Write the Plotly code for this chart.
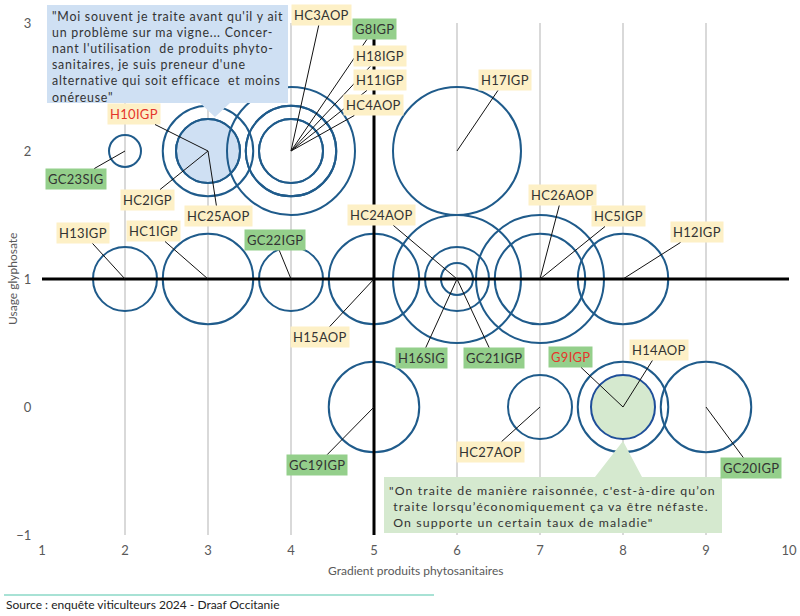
import plotly.graph_objects as go

# ---------------- data ----------------
labels = ["GC23SIG", "HC2IGP", "HC25AOP", "H10IGP",
          "HC3AOP", "G8IGP", "H18IGP", "H11IGP", "HC4AOP",
          "H17IGP",
          "H13IGP", "HC1IGP", "GC22IGP", "H15AOP",
          "HC24AOP", "GC21IGP", "H16SIG",
          "HC26AOP", "HC5IGP", "H12IGP",
          "GC19IGP", "HC27AOP", "H14AOP", "G9IGP", "GC20IGP"]
gradient = [2, 3, 3, 3,
            4, 4, 4, 4, 4,
            6,
            2, 3, 4, 5,
            6, 6, 6,
            7, 7, 8,
            5, 7, 8, 8, 9]
glypho = [2, 2, 2, 2,
          2, 2, 2, 2, 2,
          2,
          1, 1, 1, 1,
          1, 1, 1,
          1, 1, 1,
          0, 0, 0, 0, 0]
bubble = [1, 8, 4, 4,
          16, 8, 4, 4, 8,
          16,
          4, 8, 4, 8,
          16, 4, 1,
          16, 8, 8,
          8, 4, 8, 4, 8]
groupe = ["SIG", "IGP", "AOP", "IGP",
          "AOP", "G", "IGP", "IGP", "AOP",
          "IGP",
          "IGP", "IGP", "G", "AOP",
          "AOP", "G", "SIG",
          "AOP", "IGP", "IGP",
          "G", "AOP", "AOP", "G", "G"]
highlight = {"H10IGP": "#cfe0f3", "G9IGP": "#d5e9cf"}

quote1_lines = ['"Moi souvent je traite avant qu\'il y ait',
                'un problème sur ma vigne... Concer-',
                'nant l\'utilisation  de produits phyto-',
                'sanitaires, je suis preneur d\'une',
                'alternative qui soit efficace  et moins',
                'onéreuse"']
quote2_lines = ['"On traite de manière raisonnée, c\'est-à-dire qu’on',
                ' traite lorsqu’économiquement ça va être néfaste.',
                ' On supporte un certain taux de maladie"']

# ---------------- layout helpers ----------------
W, H = 800, 616
L, R, T, B = 42, 11, 23, 81
PW, PH = W - L - R, H - T - B


def px(xp):
    return (xp - L) / PW


def py(yp):
    return (H - B - yp) / PH


FONT = "Lato"
BLUE = "#1f5b8b"
YELLOW = "#fdf0c6"
GREEN = "#94cf8b"
RED = "#e5352b"
TXT = "#333333"

fig = go.Figure()

# highlighted bubbles first (drawn beneath rings)
for filled in (True, False):
    idx = [i for i, lb in enumerate(labels) if (lb in highlight) == filled]
    fig.add_trace(go.Scatter(
        x=[gradient[i] for i in idx],
        y=[glypho[i] for i in idx],
        text=[labels[i] for i in idx],
        mode="markers",
        hoverinfo="text",
        marker=dict(
            size=[bubble[i] for i in idx],
            sizemode="area",
            sizeref=32 / 128 ** 2,
            opacity=1,
            color=[highlight.get(labels[i], "rgba(0,0,0,0)") for i in idx],
            line=dict(color=["#1f4f9a" if labels[i] == "G9IGP" else BLUE for i in idx], width=2),
        ),
        cliponaxis=False,
        showlegend=False,
    ))

# label offsets (pixels) from bubble centre
offsets = {
    "H10IGP": (-74, -37), "GC23SIG": (-49, 28), "HC2IGP": (-61, 49), "HC25AOP": (10, 65),
    "HC3AOP": (30, -136), "G8IGP": (83, -122), "H18IGP": (89, -95), "H11IGP": (89, -71),
    "HC4AOP": (82, -46), "H17IGP": (48, -71),
    "H13IGP": (-42, -46), "HC1IGP": (-55, -48), "GC22IGP": (-16, -39),
    "HC24AOP": (-76, -64), "H15AOP": (-54, 58), "H16SIG": (-36, 79), "GC21IGP": (37, 79),
    "HC26AOP": (22, -84), "HC5IGP": (78, -63), "H12IGP": (74, -47),
    "GC19IGP": (-57, 58), "HC27AOP": (-50, 45), "G9IGP": (-53, -50), "H14AOP": (36, -57),
    "GC20IGP": (45, 61),
}

annotations = []
for lb, gx, gy, gr in zip(labels, gradient, glypho, groupe):
    ax, ay = offsets[lb]
    annotations.append(dict(
        x=gx, y=gy, xref="x", yref="y", ax=ax, ay=ay, axref="pixel", ayref="pixel",
        text=f'<span style="letter-spacing:0.3px">{lb}</span>',
        showarrow=True, arrowhead=0, arrowwidth=1, arrowcolor="#111111",
        standoff=0, startstandoff=0,
        bgcolor=GREEN if gr in ("G", "SIG") else YELLOW,
        borderpad=2,
        font=dict(family=FONT, size=13, color=RED if lb in highlight else TXT),
    ))

# callout texts
q1 = "<br>".join(f'<span style="letter-spacing:0.75px">{s}</span>' for s in quote1_lines)
q2 = "<br>".join(f'<span style="letter-spacing:1.1px">{s}</span>' for s in quote2_lines)
annotations.append(dict(x=px(50), y=py(7), xref="paper", yref="paper", xanchor="left", yanchor="top",
                        text=q1, showarrow=False, align="left",
                        font=dict(family=FONT, size=12.4, color=TXT)))
annotations.append(dict(x=px(387), y=py(481), xref="paper", yref="paper", xanchor="left", yanchor="top",
                        text=q2, showarrow=False, align="left",
                        font=dict(family=FONT, size=12.3, color=TXT)))

# axis titles and source
annotations.append(dict(x=0.5, y=py(570), xref="paper", yref="paper", xanchor="center", yanchor="middle",
                        text="Gradient produits phytosanitaires",
                        showarrow=False, font=dict(family=FONT, size=12, color="#595959")))
annotations.append(dict(x=px(12), y=0.5, xref="paper", yref="paper", xanchor="center", yanchor="middle",
                        text="Usage glyphosate", textangle=-90,
                        showarrow=False, font=dict(family=FONT, size=12, color="#595959")))
annotations.append(dict(x=px(4), y=py(604), xref="paper", yref="paper", xanchor="left", yanchor="middle",
                        text="Source : enquête viticulteurs 2024 - Draaf Occitanie",
                        showarrow=False, font=dict(family=FONT, size=12, color="#222222")))


def path(points):
    return "M " + " L ".join(f"{px(a):.5f},{py(b):.5f}" for a, b in points) + " Z"


shapes = [
    dict(type="line", xref="x", yref="y", x0=1, x1=10, y0=1, y1=1, line=dict(color="black", width=3), layer="above"),
    dict(type="line", xref="x", yref="y", x0=5, x1=5, y0=-1, y1=3, line=dict(color="black", width=3), layer="above"),
    dict(type="path", xref="paper", yref="paper", layer="above", line=dict(width=0), fillcolor="#cfe0f3",
         path=path([(47, 5), (288, 5), (288, 103), (230, 103), (215, 117), (200, 103), (47, 103)])),
    dict(type="path", xref="paper", yref="paper", layer="above", line=dict(width=0), fillcolor="#d5e9cf",
         path=path([(384, 477), (595, 477), (623, 441), (642, 477), (722, 477), (722, 533), (384, 533)])),
    dict(type="line", xref="paper", yref="paper", x0=px(4), x1=px(434), y0=py(595), y1=py(595),
         line=dict(color="#a8e2d5", width=2)),
]

fig.update_layout(
    width=W, height=H,
    margin=dict(l=L, r=R, t=T, b=B),
    paper_bgcolor="white", plot_bgcolor="white",
    font=dict(family=FONT, size=13, color="#595959"),
    xaxis=dict(range=[1, 10], dtick=1, tick0=1, showgrid=True, gridcolor="#d9d9d9", gridwidth=1.5,
               zeroline=False, showline=False, ticks="outside", ticklen=3, tickcolor="rgba(0,0,0,0)",
               automargin=False,
               tickfont=dict(family=FONT, size=13, color="#595959")),
    yaxis=dict(range=[-1, 3], dtick=1, tick0=-1, showgrid=False, zeroline=False, showline=False,
               ticks="outside", ticklen=7, tickcolor="rgba(0,0,0,0)", automargin=False,
               tickfont=dict(family=FONT, size=13, color="#595959")),
    annotations=annotations,
    shapes=shapes,
)

fig.write_html("out.html", config={"displayModeBar": False},
               post_script="document.body.style.margin='0px';document.body.style.padding='0px';")
